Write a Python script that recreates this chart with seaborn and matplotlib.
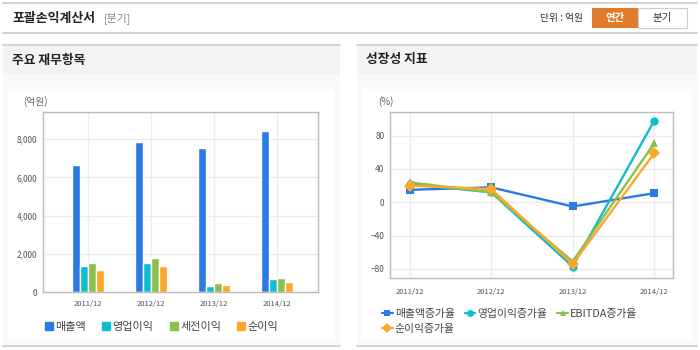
import pandas as pd
import seaborn as sns
import matplotlib.pyplot as plt
from matplotlib.patches import Rectangle
from matplotlib.lines import Line2D
from matplotlib.ticker import FuncFormatter

# data
periods = ["2011/12", "2012/12", "2013/12", "2014/12"]

bar_items = ["매출액", "영업이익", "세전이익", "순이익"]
sales = [6650, 7870, 7550, 8450]
op_income = [1370, 1530, 330, 700]
pretax = [1520, 1780, 480, 750]
net_income = [1160, 1380, 380, 540]

growth_items = ["매출액증가율", "영업이익증가율", "EBITDA증가율", "순이익증가율"]
sales_g = [15, 18, -5, 11]
op_g = [22, 12, -77, 98]
ebitda_g = [24, 12, -71, 71]
net_g = [20, 16, -74, 59]

colors = ["#2a7be4", "#12bccf", "#8bc04a", "#fca62a"]
markers = ["s", "o", "^", "D"]

bars = pd.DataFrame({
    "period": periods * 4,
    "item": [it for it in bar_items for _ in periods],
    "value": sales + op_income + pretax + net_income,
})
growth = pd.DataFrame({
    "period": periods * 4,
    "item": [it for it in growth_items for _ in periods],
    "value": sales_g + op_g + ebitda_g + net_g,
})

sns.set_theme(style="white")
plt.rcParams["font.family"] = ["Noto Sans CJK KR", "DejaVu Sans"]

W, H = 700, 350
fig = plt.figure(figsize=(7, 3.5), dpi=100)


def fx(x):
    return x / W


def fy(y):
    return 1 - y / H


def rect(x0, y0, x1, y1, fc, ec="none", lw=0, z=-2):
    fig.add_artist(Rectangle((fx(x0), fy(y1)), fx(x1 - x0), (y1 - y0) / H,
                             transform=fig.transFigure, fc=fc, ec=ec, lw=lw, zorder=z))


def hline(x0, x1, y, color="#cfcfcf", lw=1.3):
    fig.add_artist(Line2D([fx(x0), fx(x1)], [fy(y), fy(y)],
                          transform=fig.transFigure, color=color, lw=lw, zorder=-1))


# page frame
hline(3, 697, 3)
hline(3, 697, 33)
fig.text(fx(12), fy(18), "포괄손익계산서", fontsize=9.3, fontweight="bold",
         color="#222222", va="center")
fig.text(fx(104), fy(18), "[분기]", fontsize=7.8, color="#888888", va="center")
fig.text(fx(540), fy(18), "단위 : 억원", fontsize=7, color="#333333", va="center")
rect(592, 8, 638, 28, "#e07d2c", z=1)
fig.text(fx(615), fy(18), "연간", fontsize=7.5, fontweight="bold", color="white",
         ha="center", va="center")
rect(638, 8, 687, 28, "white", ec="#cccccc", lw=0.8, z=1)
fig.text(fx(662), fy(18), "분기", fontsize=7.5, color="#333333", ha="center", va="center")

# panels
for x0, x1, title in [(3, 340, "주요 재무항목"), (357, 697, "성장성 지표")]:
    hline(x0, x1, 45)
    rect(x0, 45.5, x1, 74, "#f3f3f3")
    rect(x0, 74, x1, 345, "#f9f9f9")
    rect(x0 + 5, 89, x1 - 5, 339, "white")
    hline(x0, x1, 346)
    fig.text(fx(x0 + 9), fy(60), title, fontsize=9.2, fontweight="bold",
             color="#222222", va="center")


def style_axis(ax):
    for s in ax.spines.values():
        s.set_color("#bbbbbb")
        s.set_linewidth(1)
    ax.grid(True, color="#ececec", linewidth=1)
    ax.set_axisbelow(True)
    ax.tick_params(length=0, labelcolor="#555555", labelsize=6, pad=4)
    ax.set_xlabel("")
    ax.set_ylabel("")
    ax.set_facecolor("white")


# bar chart
ax1 = fig.add_axes([fx(43), fy(292), fx(318 - 43), (292 - 112) / H])
sns.barplot(data=bars, x="period", y="value", hue="item", palette=colors,
            width=0.51, gap=0, ax=ax1, legend=False, saturation=1)
ax1.set_ylim(0, 9430)
ax1.set_xlim(-0.71, 3.65)
ax1.set_yticks([0, 2000, 4000, 6000, 8000])
ax1.yaxis.set_major_formatter(FuncFormatter(lambda v, p: f"{int(v):,}"))
style_axis(ax1)
ax1.tick_params(axis="x", labelsize=5.5, pad=6)
fig.text(fx(23), fy(102), "(억원)", fontsize=7, color="#666666", va="center")

h1 = [Line2D([], [], marker="s", linestyle="none", color=c, markersize=5.5) for c in colors]
fig.legend(h1, bar_items, loc="center left", bbox_to_anchor=(fx(33), fy(327)),
           ncol=4, frameon=False, fontsize=8, handletextpad=0.1,
           columnspacing=1.3, labelcolor="#444444", handlelength=1.0)

# growth line chart
ax2 = fig.add_axes([fx(390), fy(278), fx(673 - 390), (278 - 112) / H])
sns.lineplot(data=growth, x="period", y="value", hue="item", style="item",
             palette=colors, markers=dict(zip(growth_items, markers)), dashes=False,
             linewidth=1.7, markersize=6, markeredgewidth=0, ax=ax2, legend=False)
ax2.set_ylim(-90.8, 108.4)
ax2.set_xlim(-0.24, 3.23)
ax2.set_yticks([-80, -40, 0, 40, 80])
style_axis(ax2)
ax2.tick_params(axis="x", labelsize=5.5, pad=7)
fig.text(fx(378), fy(102), "(%)", fontsize=7, color="#666666", va="center")

h2 = [Line2D([], [], marker=m, color=c, markersize=5, lw=1.6, markeredgewidth=0)
      for m, c in zip(markers, colors)]
order = [0, 3, 1, 2]  # legend fills column-wise; this gives row order
fig.legend([h2[i] for i in order], [growth_items[i] for i in order],
           loc="upper left", bbox_to_anchor=(fx(372), fy(299)),
           ncol=3, frameon=False, fontsize=7.8, handletextpad=0.2,
           columnspacing=0.9, labelcolor="#444444", handlelength=1.0,
           labelspacing=0.45)

fig.savefig("out.png", dpi=100)
